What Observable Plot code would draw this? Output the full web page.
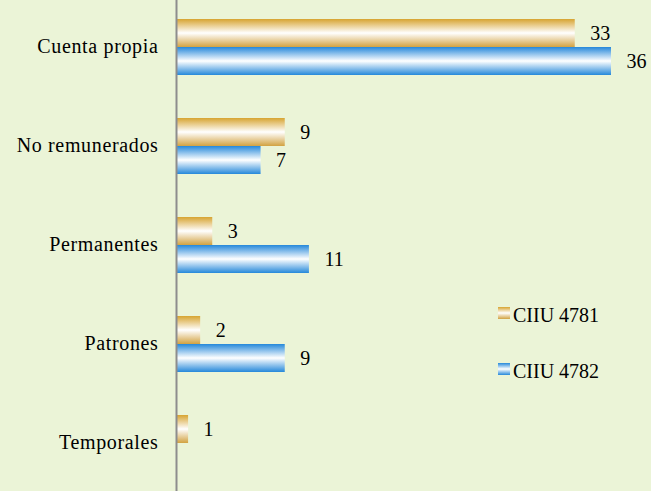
<!DOCTYPE html>
<html>
<head>
<meta charset="utf-8">
<script src="https://cdn.jsdelivr.net/npm/d3@7"></script>
<script src="https://cdn.jsdelivr.net/npm/@observablehq/plot@0.6"></script>
<style>
  html, body { margin: 0; padding: 0; background: #ebf4d7; }
  #chart { width: 651px; height: 491px; overflow: hidden; }
  #chart svg { display: block; }
  #chart svg, #chart svg text { font-family: "Liberation Serif", "Times New Roman", Times, serif !important; }
</style>
</head>
<body>
<div id="chart"></div>
<script>
// Categorías de ocupación y valores por actividad (CIIU)
const categories = ["Cuenta propia", "No remunerados", "Permanentes", "Patrones", "Temporales"];
const series = ["CIIU 4781", "CIIU 4782"];
const ciiu4781 = [33, 9, 3, 2, 1];
const ciiu4782 = [36, 7, 11, 9, 0];

const rows = categories.flatMap((cat, i) => [
  {cat, serie: series[0], value: ciiu4781[i]},
  {cat, serie: series[1], value: ciiu4782[i]}
]);

const gradientIds = {"CIIU 4781": "grad4781", "CIIU 4782": "grad4782"};
const gradientStops = {
  grad4781: [["0%", "#d7a431"], ["50%", "#ffffff"], ["100%", "#d2a241"]],
  grad4782: [["0%", "#2588da"], ["50%", "#ffffff"], ["100%", "#2588da"]]
};

const font = "Liberation Serif";

const chart = Plot.plot({
  width: 651,
  height: 491,
  marginLeft: 176,
  marginRight: 40,
  marginTop: 0,
  marginBottom: 0,
  style: {background: "transparent", fontSize: "20px", color: "#000"},
  x: {domain: [0, 36], axis: null},
  y: {domain: series, axis: null, paddingInner: 0, paddingOuter: 0.74},
  fy: {domain: categories, range: [-4, 493], padding: 0, label: null, axis: null},
  marks: [
    Plot.axisFy({anchor: "left", tickSize: 0, tickPadding: 18, label: null, fontSize: 20, fill: "#000"}),
    ...series.map(s => Plot.barX(rows.filter(d => d.serie === s), {
      x: "value", y: "serie", fy: "cat", fill: `url(#${gradientIds[s]})`
    })),
    Plot.text(rows.filter(d => d.value > 0), {
      x: "value", y: "serie", fy: "cat", text: d => String(d.value),
      textAnchor: "start", dx: 15, dy: 0.5, fill: "#000", fontSize: 20
    }),
    Plot.ruleX([0], {stroke: "#8d8d8d", strokeWidth: 2})
  ]
});

const svg = d3.select(chart);
svg.attr("font-family", font);
// Etiquetas de categoría algo más espaciadas
svg.selectAll('[aria-label="fy-axis tick label"] text').attr("letter-spacing", "0.65px");

const defs = svg.insert("defs", ":first-child");
for (const [id, stops] of Object.entries(gradientStops)) {
  const g = defs.append("linearGradient").attr("id", id)
    .attr("x1", 0).attr("y1", 0).attr("x2", 0).attr("y2", 1);
  for (const [off, col] of stops) g.append("stop").attr("offset", off).attr("stop-color", col);
}

// Leyenda
const legend = svg.append("g").attr("font-size", 20).attr("text-anchor", "start");
series.forEach((s, i) => {
  const y = 315 + i * 56;
  legend.append("rect").attr("x", 498).attr("y", y - 8).attr("width", 12).attr("height", 12)
    .attr("fill", `url(#${gradientIds[s]})`);
  legend.append("text").attr("x", 513).attr("y", y).attr("dy", "0.35em").attr("fill", "#000").text(s);
});

document.getElementById("chart").appendChild(chart);
</script>
</body>
</html>
